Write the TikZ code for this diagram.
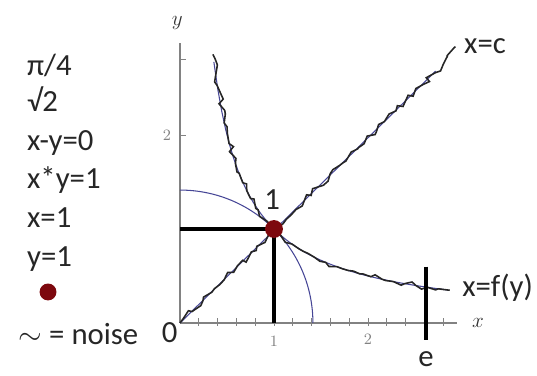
\documentclass[tikz,border=0pt]{standalone}
\usepackage{fontspec}
\setmainfont{Carlito}
\usetikzlibrary{decorations.pathmorphing}
\definecolor{dotred}{RGB}{125,8,14}
\definecolor{curveblue}{RGB}{70,70,150}
\definecolor{axisgray}{RGB}{130,130,130}

\begin{document}
\begin{tikzpicture}[x=1.88cm,y=1.88cm,
    txt/.style={font=\fontsize{17.5}{20}\selectfont,text=black!85,inner sep=0pt},
    ticklabel/.style={font=\small,text=axisgray,inner sep=1pt},
    noisy/.style={black!85,line width=0.9pt,decorate,
        decoration={random steps,segment length=3.5pt,amplitude=1.7pt}},
    smoothcurve/.style={curveblue,line width=0.6pt},
    guide/.style={black,line width=2pt}]
    \useasboundingbox (-1.915,-0.564) rectangle (3.798,3.436);
    \pgfmathsetseed{12}
    % axes
    \draw [axisgray, line width=0.9pt] (0, 0) -- (2.95, 0);
    \draw [axisgray, line width=0.9pt] (0, 0) -- (0, 2.98);
    \foreach \t in {1,...,14}
        \draw [axisgray, thin] (\t/5, -0.03) -- (\t/5, 0.05);
    \foreach \t in {1,2,2.8}
        \draw [axisgray, thin] (0, \t) -- (0.06, \t);
    \node [ticklabel] (tx1) at (1, -0.2) {$1$};
    \node [ticklabel] (tx2) at (2, -0.17) {$2$};
    \node [ticklabel] (ty2) at (-0.14, 2) {$2$};
    \node [text=black!80, font=\large] (xlab) at (3.17, 0) {$x$};
    \node [text=black!80, font=\large] (ylab) at (-0.03, 3.19) {$y$};
    \node [txt] (zero) at (-0.11, -0.1) {0};
    % smooth curves
    \draw [smoothcurve] (0, 1.414) arc [start angle=90, end angle=0, radius=1.414];
    \draw [smoothcurve] plot [domain=0.36:2.85, samples=60] (\x, {1/\x});
    \draw [smoothcurve] (0, 0) -- (2.72, 2.68);
    % noisy curves
    \draw [noisy] plot [domain=0.35:2.87, samples=22] (\x, {1/\x});
    \draw [noisy] (0, 0) -- (2.8, 2.75) -- (2.93, 2.94);
    % x=1, y=1
    \draw [guide] (0, 1) -- (1, 1);
    \draw [guide] (1, 1) -- (1, 0);
    \fill [dotred] (1, 1) circle (0.095);
    \node [txt] (one) at (0.98, 1.31) {1};
    % e
    \coordinate (etop) at (2.617, 0.6);
    \node [txt, anchor=north] (e) at (2.617, -0.3) {e};
    \draw [guide] (etop) -- (2.617, -0.18);
    \node [txt, anchor=west] (xc) at (3.02, 2.94) {x=c};
    \node [txt, anchor=west] (xf) at (3.0, 0.38) {x=f(y)};
    % legend
    \node [txt, anchor=base west] (l1) at (-1.63, 2.638) {π/4};
    \node [txt, anchor=base west] (l2) at (-1.63, 2.245) {√2};
    \node [txt, anchor=base west] (l3) at (-1.63, 1.830) {x-y=0};
    \node [txt, anchor=base west] (l4) at (-1.63, 1.426) {x*y=1};
    \node [txt, anchor=base west] (l5) at (-1.63, 1.021) {x=1};
    \node [txt, anchor=base west] (l6) at (-1.63, 0.606) {y=1};
    \fill [dotred] (-1.404, 0.33) circle (0.09);
    \node [txt, anchor=base west] (l7) at (-1.72, -0.234) {$\sim$ = noise};
\end{tikzpicture}
\end{document}
